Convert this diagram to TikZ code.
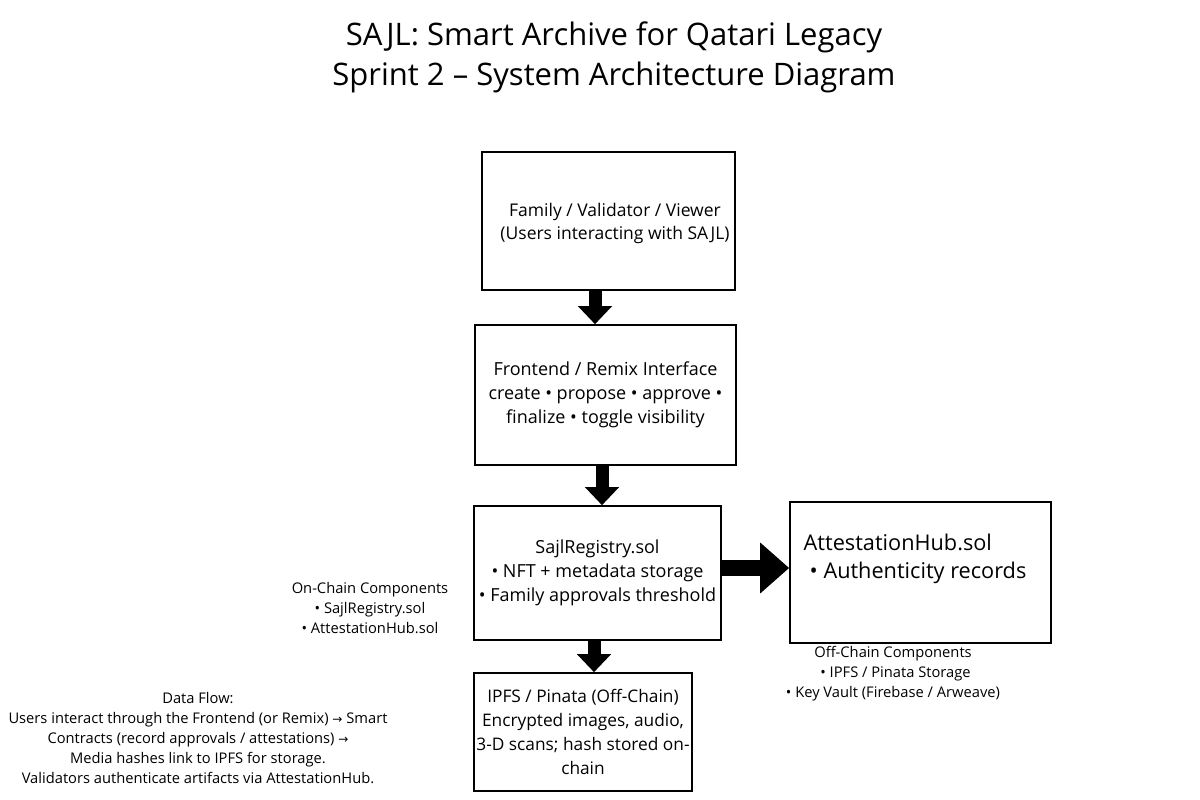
\documentclass[tikz,border=0pt]{standalone}
\usepackage{fontspec}
\setmainfont{Open Sans}
\newfontfamily\symfont{DejaVu Sans}
\usetikzlibrary{positioning, arrows.meta}

\newcommand{\flowarrow}{{\symfont\fontsize{12}{20}\selectfont →}}

\tikzset{
  archbox/.style={draw, line width=1.6pt, align=center, inner sep=2pt},
  downarrow/.style={line width=13pt, -{Triangle[length=18pt, width=33pt]}},
  bigarrow/.style={line width=16pt, -{Triangle[length=29pt, width=49pt]}},
  note/.style={align=center, font=\fontsize{14.7}{20}\selectfont}
}

\begin{document}
\begin{tikzpicture}[x=1pt, y=-1pt, font=\fontsize{18}{24}\selectfont]
  \useasboundingbox (0,0) rectangle (1200,800);

  % title
  \node[align=center, font=\fontsize{31}{40}\selectfont] (title) at (614,57)
    {SAJL: Smart Archive for Qatari Legacy\\Sprint 2 -- System Architecture Diagram};

  % main column
  \node[archbox, minimum width=253pt, minimum height=138pt] (users) at (608.5,221)
    {};
  \node[align=center, font=\fontsize{17.5}{23}\selectfont] (userstext) at (615,223)
    {Family / Validator / Viewer\\(Users interacting with SAJL)};
  \node[archbox, minimum width=261pt, minimum height=140pt] (frontend) at (605.5,395)
    {Frontend / Remix Interface\\create • propose • approve •\\finalize • toggle visibility};
  \node[archbox, minimum width=247pt, minimum height=134pt] (registry) at (597.5,573)
    {SajlRegistry.sol\\• NFT + metadata storage\\• Family approvals threshold};
  \node[archbox, minimum width=261pt, minimum height=141pt] (attest) at (920.5,572.5) {};
  \node[align=left, anchor=north west, font=\fontsize{21.7}{28}\selectfont] (attesttext)
    at ([xshift=11pt, yshift=-29pt]attest.north west)
    {AttestationHub.sol\\\hspace*{6pt}• Authenticity records};
  \node[archbox, minimum width=218pt, minimum height=118pt, font=\fontsize{17.3}{24}\selectfont] (ipfs) at (583,732)
    {IPFS / Pinata (Off-Chain)\\Encrypted images, audio,\\3-D scans; hash stored on-\\chain};

  % connectors
  \draw[downarrow] ([xshift=-13.5pt]users.south) -- ([xshift=-13.5pt]users.south |- frontend.north);
  \draw[downarrow] ([xshift=-3.5pt]frontend.south) -- ([xshift=-3.5pt]frontend.south |- registry.north);
  \draw[downarrow] ([xshift=-3.5pt]registry.south) -- ([xshift=-3.5pt]registry.south |- ipfs.north);
  \draw[bigarrow] ([yshift=5pt]registry.east) -- ([yshift=5pt]registry.east -| attest.west);

  % side notes
  \node[note] (onchain) at (370,608)
    {On-Chain Components\\• SajlRegistry.sol\\• AttestationHub.sol};
  \node[note] (offchain) at (893,674)
    {Off-Chain Components\\\hspace*{5pt}• IPFS / Pinata Storage\\• Key Vault (Firebase / Arweave)};
  \node[note] (dataflow) at (198,738)
    {Data Flow:\\Users interact through the Frontend (or Remix) \flowarrow{} Smart\\Contracts (record approvals / attestations) \flowarrow\\Media hashes link to IPFS for storage.\\Validators authenticate artifacts via AttestationHub.};
\end{tikzpicture}
\end{document}
